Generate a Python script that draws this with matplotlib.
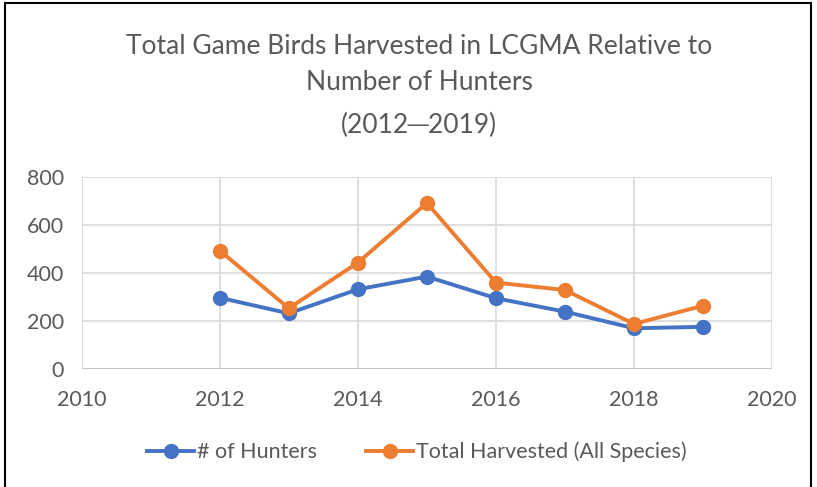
import matplotlib.pyplot as plt
from matplotlib.lines import Line2D

# data
years = [2012, 2013, 2014, 2015, 2016, 2017, 2018, 2019]
hunters = [297, 232, 332, 385, 295, 239, 170, 176]
harvested = [493, 253, 443, 691, 360, 329, 188, 264]
series_names = ["# of Hunters", "Total Harvested (All Species)"]
title_lines = ["Total Game Birds Harvested in LCGMA Relative to", "Number of Hunters", "(2012\u25002019)"]

plt.rcParams['font.family'] = ['Lato', 'DejaVu Sans']

blue = "#4472C4"
orange = "#ED7D31"
grey_text = "#595959"

fig = plt.figure(figsize=(8.17, 4.87), dpi=100)
ax = fig.add_axes([0.100, 0.242, 0.845, 0.395])

ax.plot(years, hunters, color=blue, lw=2.8, marker='o', ms=10, label=series_names[0], zorder=3)
ax.plot(years, harvested, color=orange, lw=2.8, marker='o', ms=10, label=series_names[1], zorder=4)

ax.set_xlim(2010, 2020)
ax.set_ylim(0, 800)
ax.set_xticks(range(2010, 2021, 2))
ax.set_yticks(range(0, 801, 200))
ax.grid(True, color="#D9D9D9", lw=1.2)
ax.set_axisbelow(True)
for s in ax.spines.values():
    s.set_visible(False)
ax.axhline(0, color="#BFBFBF", lw=1.2, zorder=1)
ax.tick_params(axis='x', length=0, labelsize=15.5, labelcolor=grey_text, pad=15)
ax.tick_params(axis='y', length=0, labelsize=15.5, labelcolor=grey_text, pad=13)

# title, three lines
ys = [0.905, 0.83, 0.742]
for t, y in zip(title_lines, ys):
    fig.text(0.513, y, t, ha='center', va='center', fontsize=19, color=grey_text)

# legend
handles = [Line2D([], [], color=blue, lw=2.8, marker='o', ms=10),
           Line2D([], [], color=orange, lw=2.8, marker='o', ms=10)]
fig.legend(handles, series_names, loc='center', bbox_to_anchor=(0.51, 0.072), ncol=2,
           frameon=False, fontsize=15.5, labelcolor=grey_text, handlelength=2.2,
           handletextpad=0.1, columnspacing=2.3)

# border around the chart area
border = dict(color='black', lw=1.5, transform=fig.transFigure, clip_on=False)
fig.add_artist(Line2D([0.006, 0.006], [0, 0.993], **border))
fig.add_artist(Line2D([0.006, 0.993], [0.993, 0.993], **border))
fig.add_artist(Line2D([0.993, 0.993], [0, 0.993], **border))

fig.savefig("out.png", dpi=100)
